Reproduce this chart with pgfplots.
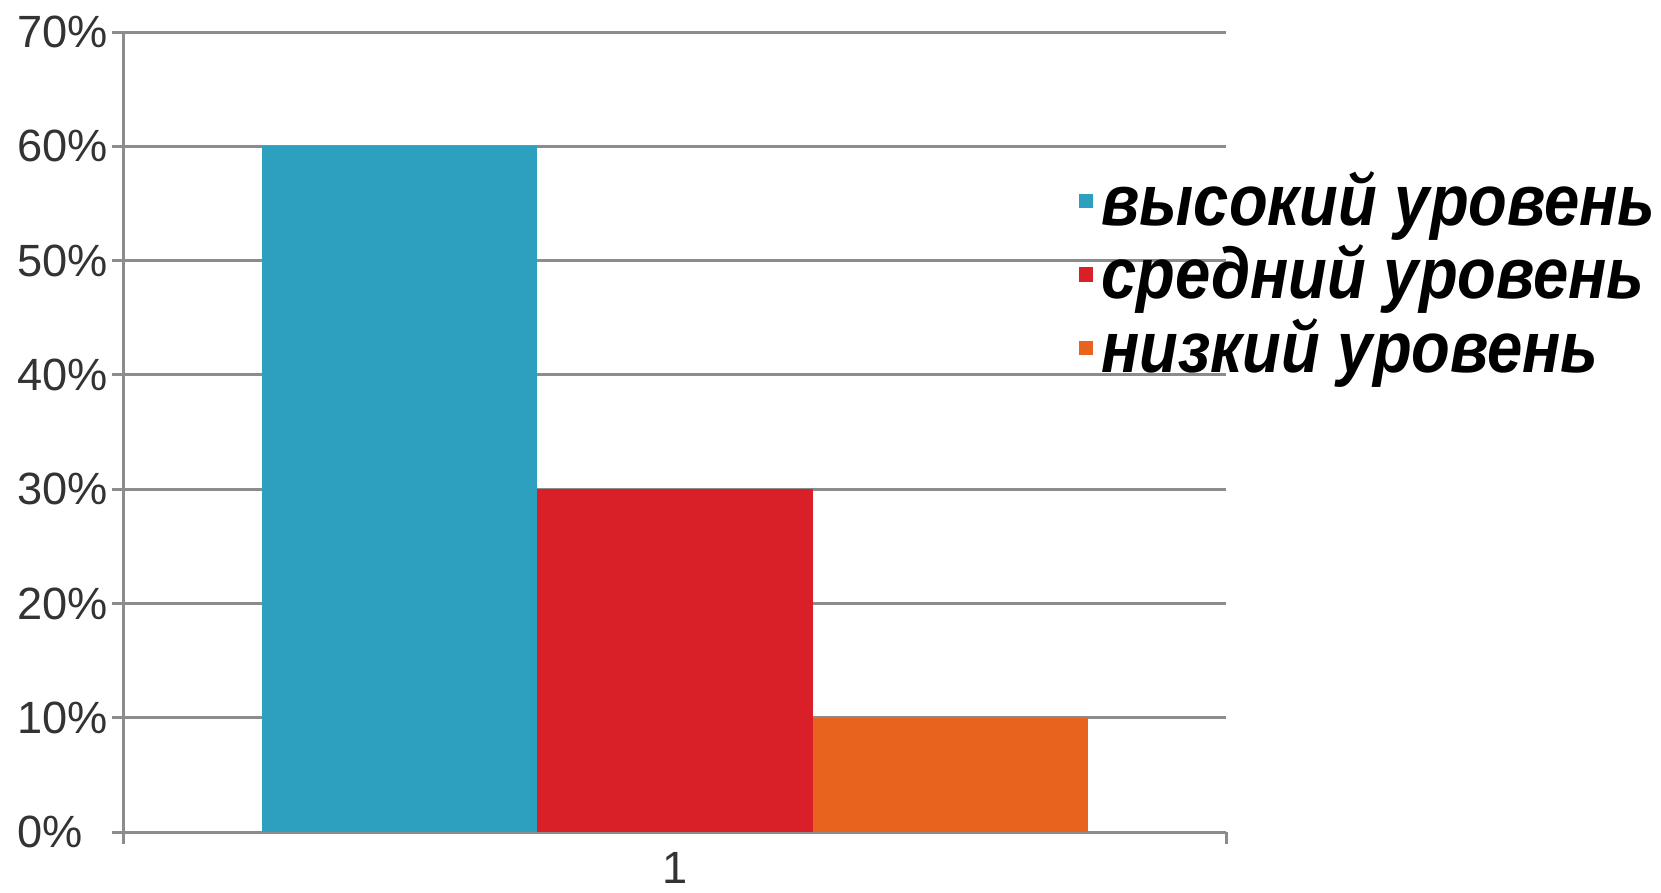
\documentclass[border=0pt]{standalone}
\usepackage{fontspec}
\setmainfont{Liberation Sans}
\newfontfamily\legfont[FakeStretch=0.88]{Liberation Sans}
\usepackage{pgfplots}
\pgfplotsset{compat=1.18}
\definecolor{cblue}{RGB}{44,160,190}
\definecolor{cred}{RGB}{217,31,40}
\definecolor{corange}{RGB}{232,100,30}
\definecolor{gridgray}{RGB}{140,140,140}
\begin{document}
\begin{tikzpicture}
\useasboundingbox (-31pt,-15pt) rectangle (384.25pt,208pt);
\begin{axis}[
    at={(0,0)}, anchor=south west, scale only axis,
    width=275.5pt, height=200pt,
    xmin=0.5, xmax=1.5, ymin=0, ymax=70,
    ybar, bar width=0.25, bar shift=0pt,
    every axis plot post/.append style={
        legend image code/.code={\fill[##1,draw=none] (0pt,-1.8pt) rectangle (3.6pt,1.8pt);}},
    axis x line*=bottom, axis y line*=left,
    axis line style={gridgray, line width=0.75pt, -},
    ytick={0,10,20,30,40,50,60,70},
    yticklabels={0\%,10\%,20\%,30\%,40\%,50\%,60\%,70\%},
    xtick={1}, xticklabels={1},
    minor xtick={0.5,1.5},
    major x tick style={draw=none},
    tick align=outside, major tick length=3pt, minor tick length=3pt,
    tick style={gridgray, line width=0.75pt},
    ymajorgrids, major grid style={gridgray, line width=0.75pt},
    tick label style={font=\fontsize{11.3}{13}\selectfont, text=black!80},
    yticklabel style={xshift=2.6pt, text width=22.8pt, align=left},
    xticklabel style={yshift=1.5pt},
    legend style={at={(0.855,0.847)}, anchor=north west, draw=none, fill=none,
        font=\legfont\bfseries\itshape\fontsize{18}{19}\selectfont,
        legend cell align=left, row sep=-0.6pt},
]
\addplot[fill=cblue, draw=none] coordinates {(0.75,60)};
\addlegendentry{высокий уровень}
\addplot[fill=cred, draw=none] coordinates {(1,30)};
\addlegendentry{средний уровень}
\addplot[fill=corange, draw=none] coordinates {(1.25,10)};
\addlegendentry{низкий уровень}
\end{axis}
\end{tikzpicture}
\end{document}
